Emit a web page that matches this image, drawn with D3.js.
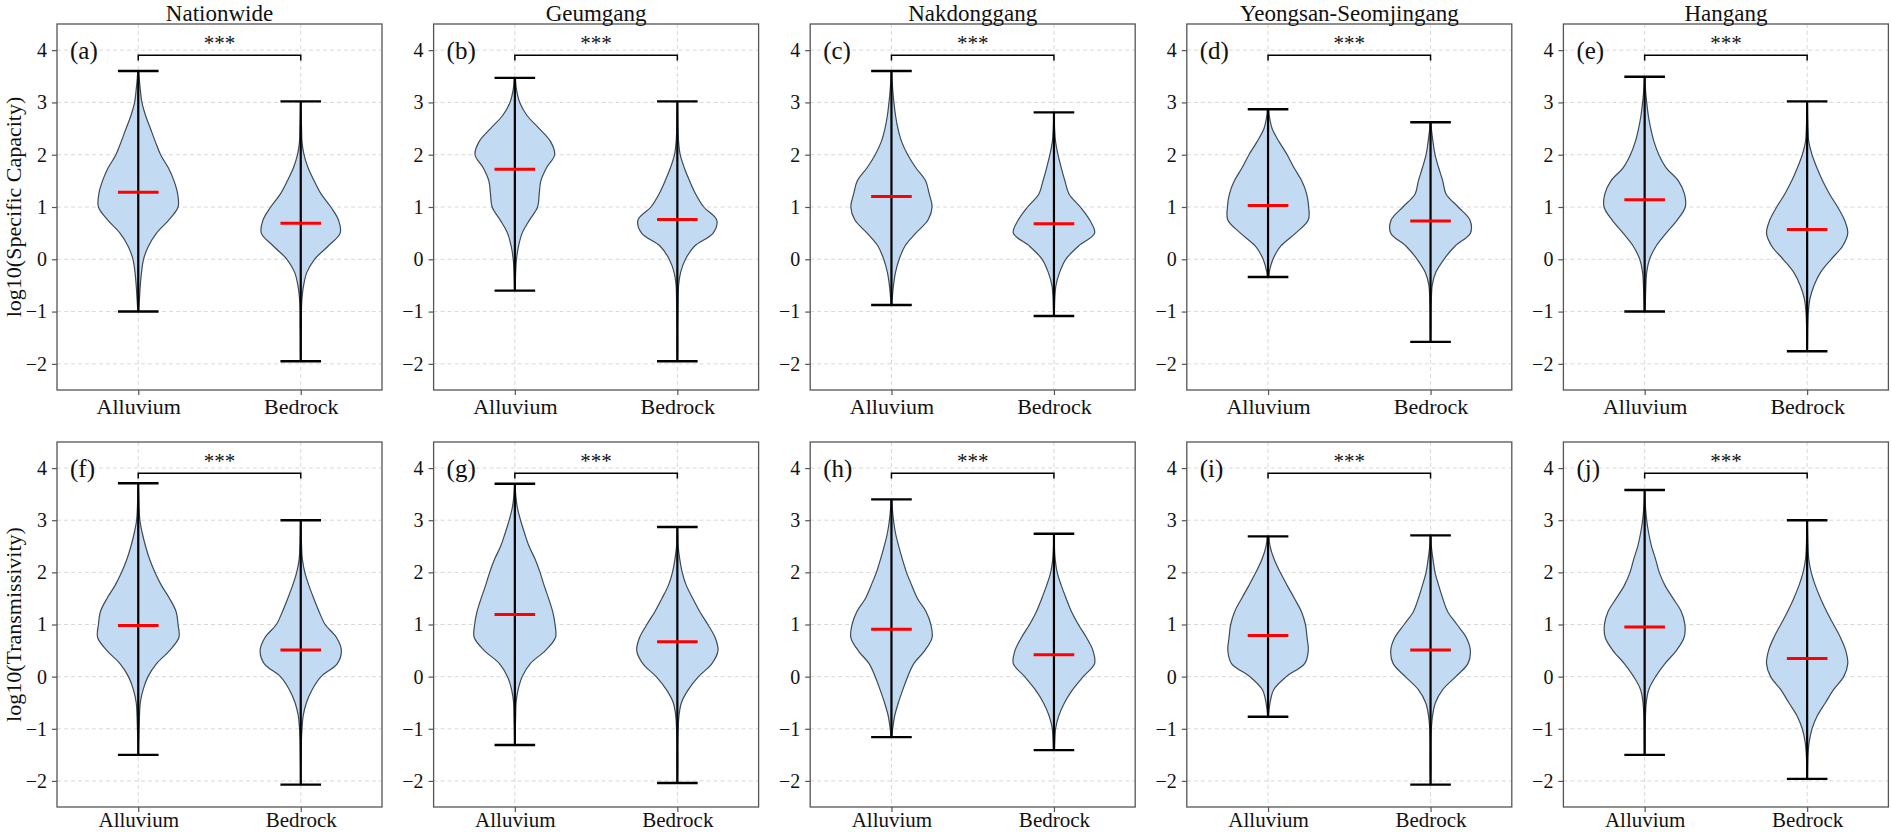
<!DOCTYPE html>
<html>
<head>
<meta charset="utf-8">
<script src="https://d3js.org/d3.v7.min.js"></script>
<style>
  body { margin: 0; background: #fff; }
  svg { display: block; font-family: "Liberation Serif", "Times New Roman", serif; }
</style>
</head>
<body>
<svg id="chart" width="1891" height="832"></svg>
<script>
// column titles, row metrics, panel letters
const regions = ['Nationwide', 'Geumgang', 'Nakdonggang', 'Yeongsan-Seomjingang', 'Hangang'];
const metrics = ['log10(Specific Capacity)', 'log10(Transmissivity)'];
const letters = ['a', 'b', 'c', 'd', 'e', 'f', 'g', 'h', 'i', 'j'];
const categories = ['Alluvium', 'Bedrock'];
const yTicks = [-2, -1, 0, 1, 2, 3, 4];

// panels a..j (row-major)
const alluviumMin = [-1.0, -0.6, -0.875, -0.34, -1.0, -1.5, -1.31, -1.16, -0.77, -1.5];
const alluviumMax = [3.6, 3.47, 3.6, 2.87, 3.49, 3.71, 3.7, 3.4, 2.69, 3.58];
const alluviumMedian = [1.28, 1.72, 1.2, 1.03, 1.14, 0.98, 1.19, 0.91, 0.79, 0.95];
const bedrockMin = [-1.95, -1.95, -1.085, -1.58, -1.76, -2.07, -2.04, -1.41, -2.07, -1.96];
const bedrockMax = [3.02, 3.02, 2.81, 2.62, 3.02, 3.0, 2.87, 2.74, 2.71, 3.0];
const bedrockMedian = [0.69, 0.76, 0.68, 0.73, 0.57, 0.51, 0.67, 0.42, 0.51, 0.35];

// relative violin width read at these levels
const densityLevels = [-2, -1.75, -1.5, -1.25, -1, -0.75, -0.5, -0.25, 0, 0.25, 0.5, 0.75,
                       1, 1.25, 1.5, 1.75, 2, 2.25, 2.5, 2.75, 3, 3.25, 3.5, 3.75];

const alluviumDensity = [
  [0, 0, 0, 0, 0.01, 0.03, 0.05, 0.08, 0.13, 0.25, 0.45, 0.75, 0.98, 0.97, 0.88, 0.74, 0.55, 0.42, 0.3, 0.18, 0.09, 0.05, 0.02, 0],
  [0, 0, 0, 0, 0, 0, 0.01, 0.02, 0.04, 0.09, 0.18, 0.36, 0.56, 0.6, 0.64, 0.78, 0.98, 0.88, 0.6, 0.3, 0.12, 0.04, 0.01, 0],
  [0, 0, 0, 0, 0, 0.02, 0.05, 0.1, 0.19, 0.33, 0.6, 0.9, 1.0, 0.93, 0.84, 0.6, 0.4, 0.25, 0.16, 0.1, 0.06, 0.03, 0.01, 0],
  [0, 0, 0, 0, 0, 0, 0, 0.03, 0.12, 0.31, 0.68, 0.99, 1.0, 0.95, 0.83, 0.64, 0.47, 0.27, 0.1, 0.03, 0, 0, 0, 0],
  [0, 0, 0, 0, 0.01, 0.02, 0.03, 0.05, 0.12, 0.28, 0.53, 0.8, 1.0, 0.98, 0.83, 0.53, 0.35, 0.23, 0.15, 0.09, 0.05, 0.02, 0.005, 0],
  [0, 0, 0.005, 0.01, 0.02, 0.03, 0.05, 0.12, 0.24, 0.45, 0.77, 1.0, 0.98, 0.93, 0.77, 0.57, 0.41, 0.28, 0.18, 0.1, 0.04, 0.02, 0.01, 0],
  [0, 0, 0, 0.005, 0.01, 0.02, 0.03, 0.08, 0.18, 0.38, 0.75, 1.0, 0.99, 0.93, 0.83, 0.72, 0.62, 0.5, 0.35, 0.24, 0.14, 0.06, 0.02, 0],
  [0, 0, 0, 0, 0.03, 0.08, 0.17, 0.28, 0.4, 0.55, 0.82, 1.0, 0.97, 0.85, 0.64, 0.5, 0.37, 0.27, 0.18, 0.1, 0.05, 0.02, 0.005, 0],
  [0, 0, 0, 0, 0, 0.01, 0.05, 0.14, 0.45, 0.9, 0.99, 0.96, 0.92, 0.82, 0.65, 0.47, 0.3, 0.15, 0.05, 0.01, 0, 0, 0, 0],
  [0, 0, 0.005, 0.01, 0.01, 0.02, 0.04, 0.1, 0.27, 0.5, 0.78, 0.97, 0.99, 0.9, 0.7, 0.5, 0.36, 0.27, 0.17, 0.1, 0.05, 0.02, 0.005, 0]
];

const bedrockDensity = [
  [0.005, 0.01, 0.01, 0.015, 0.015, 0.03, 0.07, 0.15, 0.34, 0.67, 0.97, 0.93, 0.74, 0.5, 0.33, 0.18, 0.08, 0.03, 0.02, 0.01, 0.005, 0, 0, 0],
  [0.005, 0.01, 0.01, 0.01, 0.015, 0.02, 0.03, 0.08, 0.2, 0.42, 0.88, 0.97, 0.65, 0.45, 0.3, 0.17, 0.07, 0.03, 0.015, 0.01, 0.005, 0, 0, 0],
  [0, 0, 0, 0, 0.01, 0.02, 0.05, 0.14, 0.29, 0.6, 1.0, 0.88, 0.65, 0.37, 0.27, 0.18, 0.1, 0.04, 0.015, 0.005, 0, 0, 0, 0],
  [0, 0, 0.005, 0.01, 0.01, 0.02, 0.04, 0.13, 0.33, 0.6, 0.98, 0.97, 0.68, 0.38, 0.3, 0.2, 0.11, 0.06, 0.02, 0.005, 0, 0, 0, 0],
  [0, 0.005, 0.01, 0.015, 0.03, 0.07, 0.17, 0.33, 0.59, 0.87, 1.0, 0.92, 0.75, 0.55, 0.38, 0.24, 0.12, 0.04, 0.02, 0.01, 0.005, 0, 0, 0],
  [0.003, 0.005, 0.01, 0.015, 0.03, 0.06, 0.14, 0.28, 0.5, 0.9, 1.0, 0.88, 0.6, 0.45, 0.32, 0.2, 0.1, 0.04, 0.02, 0.01, 0.005, 0, 0, 0],
  [0.005, 0.01, 0.01, 0.01, 0.02, 0.04, 0.1, 0.27, 0.52, 0.85, 1.0, 0.93, 0.75, 0.55, 0.38, 0.22, 0.12, 0.06, 0.02, 0.01, 0, 0, 0, 0],
  [0, 0, 0.01, 0.02, 0.04, 0.12, 0.26, 0.46, 0.72, 1.0, 0.96, 0.8, 0.6, 0.43, 0.3, 0.18, 0.08, 0.03, 0.01, 0.005, 0, 0, 0, 0],
  [0.005, 0.01, 0.01, 0.01, 0.02, 0.05, 0.12, 0.3, 0.62, 0.92, 0.98, 0.88, 0.65, 0.42, 0.3, 0.2, 0.11, 0.06, 0.02, 0.005, 0, 0, 0, 0],
  [0.005, 0.01, 0.02, 0.05, 0.12, 0.25, 0.45, 0.65, 0.9, 1.0, 0.95, 0.82, 0.65, 0.48, 0.33, 0.2, 0.1, 0.04, 0.02, 0.01, 0.005, 0, 0, 0]
];

const svg = d3.select('#chart');
svg.append('rect').attr('width', 1891).attr('height', 832).attr('fill', '#fff');

const panelW = 325, colStep = 376.6, firstLeft = 57;
const rowTop = [24, 442], panelH = [366, 365];
const xLabelSize = [22, 21], xLabelPad = [3, 0];

function widthAt(dens, v) {
  if (v <= densityLevels[0]) return dens[0];
  for (let i = 0; i < densityLevels.length - 1; i++) {
    const a = densityLevels[i], b = densityLevels[i + 1];
    if (v >= a && v <= b) return dens[i] + (dens[i + 1] - dens[i]) * (v - a) / (b - a);
  }
  return dens[dens.length - 1];
}

function profile(dens, lo, hi) {
  const pts = [[lo, widthAt(dens, lo)]];
  densityLevels.forEach((g, i) => { if (g > lo + 1e-6 && g < hi - 1e-6) pts.push([g, dens[i]]); });
  pts.push([hi, widthAt(dens, hi)]);
  return pts;
}

letters.forEach((letter, k) => {
  const row = Math.floor(k / 5), col = k % 5;
  const left = firstLeft + col * colStep, top = rowTop[row], h = panelH[row];
  const x = d3.scaleLinear().domain([0.5, 2.5]).range([left, left + panelW]);
  const y = d3.scaleLinear().domain([-2.5, 4.5]).range([top + h, top]);
  const g = svg.append('g');

  // grid
  g.selectAll('.hg').data(yTicks).join('line')
    .attr('x1', left).attr('x2', left + panelW)
    .attr('y1', d => y(d)).attr('y2', d => y(d))
    .attr('stroke', '#d4d4d4').attr('stroke-width', 0.9).attr('stroke-dasharray', '4,3');
  g.selectAll('.vg').data([1, 2]).join('line')
    .attr('x1', d => x(d)).attr('x2', d => x(d))
    .attr('y1', top).attr('y2', top + h)
    .attr('stroke', '#d4d4d4').attr('stroke-width', 0.9).attr('stroke-dasharray', '4,3');

  // axes
  const ya = g.append('g').attr('transform', `translate(${left},0)`)
    .call(d3.axisLeft(y).tickValues(yTicks).tickSize(5).tickPadding(5).tickFormat(d3.format('d')));
  const xa = g.append('g').attr('transform', `translate(0,${top + h})`)
    .call(d3.axisBottom(x).tickValues([1, 2]).tickSize(5).tickPadding(xLabelPad[row])
      .tickFormat((d, i) => categories[i]));
  [ya, xa].forEach(a => {
    a.select('.domain').remove();
    a.selectAll('line').attr('stroke', '#555').attr('stroke-width', 1.2);
    a.selectAll('text').attr('fill', '#111').style('font-family', '"Liberation Serif", serif');
  });
  ya.selectAll('text').style('font-size', '20px');
  xa.selectAll('text').style('font-size', xLabelSize[row] + 'px');

  const series = [
    { pos: 1, dens: alluviumDensity[k], lo: alluviumMin[k], hi: alluviumMax[k], med: alluviumMedian[k] },
    { pos: 2, dens: bedrockDensity[k], lo: bedrockMin[k], hi: bedrockMax[k], med: bedrockMedian[k] }
  ];

  series.forEach(s => {
    const area = d3.area().curve(d3.curveCatmullRom.alpha(0.5))
      .y(d => y(d[0]))
      .x0(d => x(s.pos - 0.25 * d[1]))
      .x1(d => x(s.pos + 0.25 * d[1]));
    g.append('path').attr('d', area(profile(s.dens, s.lo, s.hi)))
      .attr('fill', '#c3dbf2').attr('stroke', '#3d4a58').attr('stroke-width', 1.2);
    g.append('line').attr('x1', x(s.pos)).attr('x2', x(s.pos))
      .attr('y1', y(s.lo)).attr('y2', y(s.hi)).attr('stroke', '#000').attr('stroke-width', 2.2);
    [s.lo, s.hi].forEach(v => {
      g.append('line').attr('x1', x(s.pos - 0.125)).attr('x2', x(s.pos + 0.125))
        .attr('y1', y(v)).attr('y2', y(v)).attr('stroke', '#000').attr('stroke-width', 2.4);
    });
    g.append('line').attr('x1', x(s.pos - 0.125)).attr('x2', x(s.pos + 0.125))
      .attr('y1', y(s.med)).attr('y2', y(s.med)).attr('stroke', '#ff0000').attr('stroke-width', 3);
  });

  // significance bracket
  g.append('path')
    .attr('d', `M${x(1)},${y(3.8)}V${y(3.9)}H${x(2)}V${y(3.8)}`)
    .attr('fill', 'none').attr('stroke', '#000').attr('stroke-width', 1.5);
  g.append('text').attr('x', x(1.5)).attr('y', y(4.0)).attr('text-anchor', 'middle')
    .style('font-size', '21px').attr('fill', '#111').text('***');

  // panel letter
  g.append('text').attr('x', left + 13).attr('y', top + 35)
    .style('font-size', '25px').attr('fill', '#111').text(`(${letter})`);

  // frame
  g.append('rect').attr('x', left).attr('y', top).attr('width', panelW).attr('height', h)
    .attr('fill', 'none').attr('stroke', '#555').attr('stroke-width', 1.3);

  if (row === 0) {
    g.append('text').attr('x', left + panelW / 2).attr('y', 20.6).attr('text-anchor', 'middle')
      .style('font-size', '23px').attr('fill', '#111').text(regions[col]);
  }
  if (col === 0) {
    g.append('text').attr('transform', `translate(20.5,${top + h / 2}) rotate(-90)`)
      .attr('text-anchor', 'middle').style('font-size', '22px').attr('fill', '#111').text(metrics[row]);
  }
});
</script>
</body>
</html>
